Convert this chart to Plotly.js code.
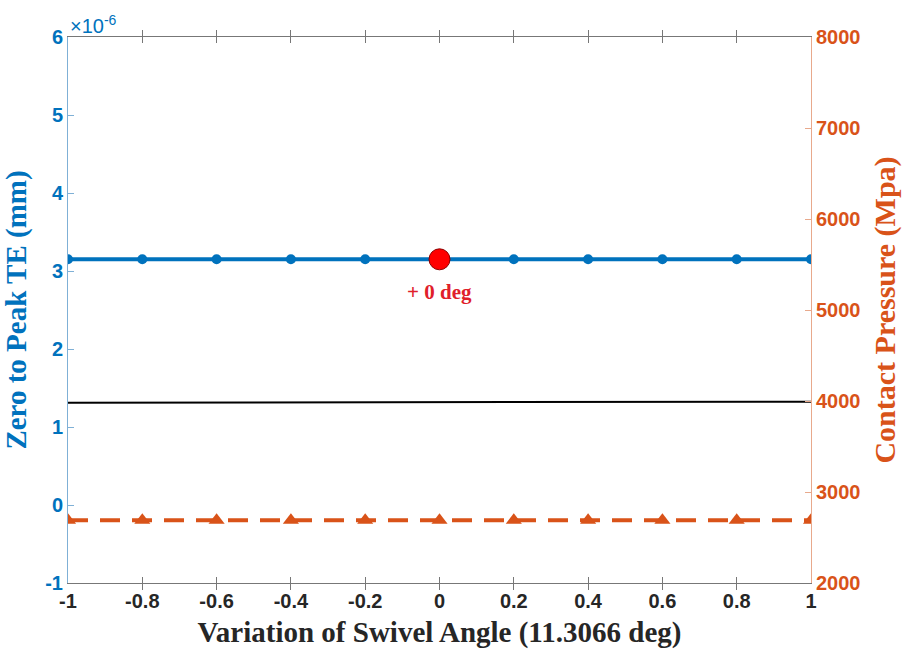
<!DOCTYPE html>
<html>
<head>
<meta charset="utf-8">
<script src="https://cdn.plot.ly/plotly-3.0.1.min.js"></script>
<style>html,body{margin:0;padding:0;background:#fff}#chart{width:907px;height:655px}</style>
</head>
<body>
<div id="chart"></div>
<script>
const swivelVariation = [-1, -0.8, -0.6, -0.4, -0.2, 0, 0.2, 0.4, 0.6, 0.8, 1];
const zeroToPeakTE = [3.15e-6, 3.15e-6, 3.15e-6, 3.15e-6, 3.15e-6, 3.15e-6, 3.15e-6, 3.15e-6, 3.15e-6, 3.15e-6, 3.15e-6];
const contactPressure = [2690, 2690, 2690, 2690, 2690, 2690, 2690, 2690, 2690, 2690, 2690];
const refLineX = [-1, 1];
const refLineY = [3980, 3993];
const highlightX = [0];
const highlightY = [3.15e-6];
const leftTickVals = [-1e-6, 0, 1e-6, 2e-6, 3e-6, 4e-6, 5e-6, 6e-6];
const leftTickText = ['-1', '0', '1', '2', '3', '4', '5', '6'];
const rightTickVals = [2000, 3000, 4000, 5000, 6000, 7000, 8000];
const rightTickText = ['2000', '3000', '4000', '5000', '6000', '7000', '8000'];
const xTickVals = [-1, -0.8, -0.6, -0.4, -0.2, 0, 0.2, 0.4, 0.6, 0.8, 1];
const xTickText = ['-1', '-0.8', '-0.6', '-0.4', '-0.2', '0', '0.2', '0.4', '0.6', '0.8', '1'];

const blue = '#0072BD';
const orange = '#D95319';
const tickFont = (c) => ({family: 'Arial', size: 20, color: c, weight: 700});
const titleFont = (c, s) => ({family: 'Liberation Serif, Times New Roman', size: s, color: c, weight: 700});

const traces = [
  {x: refLineX, y: refLineY, yaxis: 'y2', mode: 'lines', line: {color: '#000', width: 2}, hoverinfo: 'skip'},
  {x: swivelVariation, y: contactPressure, yaxis: 'y2', mode: 'lines+markers',
   line: {color: orange, width: 4, dash: '20px,12px'}, marker: {symbol: 'triangle-up', size: 14, color: orange}},
  {x: swivelVariation, y: zeroToPeakTE, yaxis: 'y', mode: 'lines+markers',
   line: {color: blue, width: 4}, marker: {symbol: 'circle', size: 10, color: blue}},
  {x: highlightX, y: highlightY, yaxis: 'y', mode: 'markers',
   marker: {symbol: 'circle', size: 21, color: '#FF0000', line: {color: '#8B0000', width: 1}}}
];

const layout = {
  width: 907, height: 655,
  margin: {l: 68, r: 96, t: 37, b: 72},
  paper_bgcolor: '#fff', plot_bgcolor: '#fff',
  showlegend: false,
  xaxis: {
    range: [-1, 1], tickvals: xTickVals, ticktext: xTickText,
    showline: true, linecolor: '#777', linewidth: 1, mirror: 'allticks',
    ticks: 'inside', ticklen: 6, tickcolor: '#777',
    showgrid: false, zeroline: false,
    tickfont: tickFont('#262626'),
    title: {text: 'Variation of Swivel Angle (11.3066 deg)', font: titleFont('#262626', 29), standoff: 10}
  },
  yaxis: {
    range: [-1e-6, 6e-6], tickvals: leftTickVals, ticktext: leftTickText,
    showline: true, linecolor: '#7FB0D6', linewidth: 1,
    ticks: 'inside', ticklen: 6, tickcolor: '#7FB0D6',
    showgrid: false, zeroline: false,
    tickfont: tickFont(blue),
    title: {text: 'Zero to Peak TE (mm)', font: titleFont(blue, 29), standoff: 12}
  },
  yaxis2: {
    range: [2000, 8000], tickvals: rightTickVals, ticktext: rightTickText, overlaying: 'y', side: 'right',
    showline: true, linecolor: '#E8A98C', linewidth: 1,
    ticks: 'inside', ticklen: 6, tickcolor: '#E8A98C',
    showgrid: false, zeroline: false,
    tickfont: tickFont(orange),
    title: {text: 'Contact Pressure (Mpa)', font: titleFont(orange, 30), standoff: 14}
  },
  annotations: [
    {xref: 'paper', yref: 'paper', x: 0, y: 1, xanchor: 'left', yanchor: 'bottom', yshift: -2,
     text: '×10<sup>-6</sup>', showarrow: false, font: {family: 'Arial', size: 20, color: blue}},
    {x: 0, y: 3.15e-6, xref: 'x', yref: 'y', text: '+ 0 deg', showarrow: false, yshift: -33,
     font: {family: 'Liberation Serif, Times New Roman', size: 21, color: '#E0202A', weight: 700}}
  ]
};

Plotly.newPlot('chart', traces, layout, {displayModeBar: false, staticPlot: true});
</script>
</body>
</html>
